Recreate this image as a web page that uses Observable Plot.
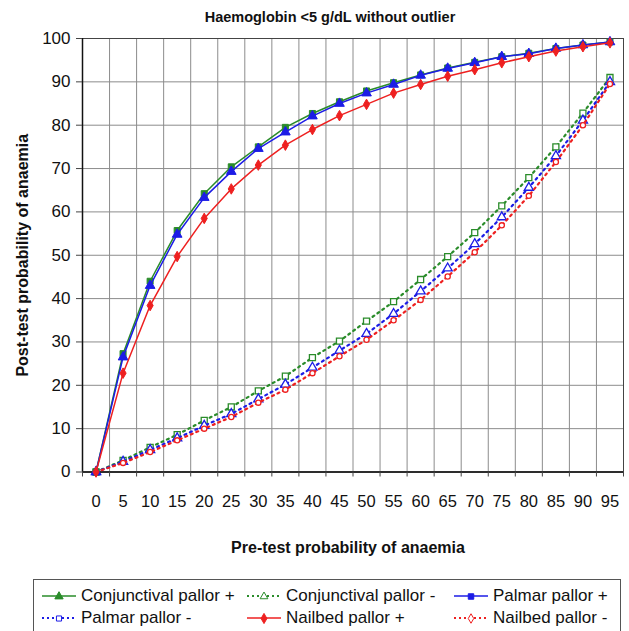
<!DOCTYPE html>
<html><head><meta charset="utf-8">
<script src="https://cdn.jsdelivr.net/npm/d3@7"></script>
<script src="https://cdn.jsdelivr.net/npm/@observablehq/plot@0.6"></script>
<style>
body{margin:0;background:#fff;font-family:"Liberation Sans",Arial,sans-serif;overflow:hidden;width:629px;height:631px;position:relative}
#title{height:30px;position:relative}
#title span{position:absolute;left:330px;top:17px;transform:translate(-50%,-50%);font-weight:bold;font-size:14.5px;white-space:nowrap;color:#111}
#legend{position:absolute;left:33px;top:579px;width:588px;height:60px;border:1px solid #555;box-sizing:border-box}
.item{position:absolute;display:flex;align-items:center;font-size:17px;white-space:nowrap;color:#111;transform:translateY(-50%)}
.item svg{margin-right:4px}
</style></head><body>
<div id="title"><span>Haemoglobin &lt;5 g/dL without outlier</span></div>
<div id="chart"></div>
<div id="legend"></div>
<script>
const pretest = [0,5,10,15,20,25,30,35,40,45,50,55,60,65,70,75,80,85,90,95];
const yTicks = [0,10,20,30,40,50,60,70,80,90,100];

const conjPos = [0,27.3,44.0,55.7,64.2,70.4,75.0,79.5,82.7,85.4,87.9,89.8,91.6,93.2,94.5,95.8,96.6,97.7,98.5,99.2];
const palmPos = [0,26.5,43.0,54.8,63.3,69.3,74.6,78.4,82.1,85.0,87.4,89.4,91.5,93.1,94.4,95.8,96.5,97.7,98.5,99.2];
const nailPos = [0,22.8,38.4,49.7,58.5,65.3,70.8,75.4,79.0,82.2,84.8,87.4,89.4,91.3,92.8,94.4,95.8,97.1,98.1,99.0];
const conjNeg = [0,2.7,5.7,8.6,11.9,15.0,18.7,22.1,26.4,30.2,34.8,39.3,44.4,49.7,55.2,61.4,67.9,75.0,82.8,91.0];
const palmNeg = [0,2.4,5.1,7.8,10.7,13.4,16.8,20.2,24.1,28.0,31.9,36.5,41.7,47.0,52.6,58.8,65.6,72.9,81.1,90.0];
const nailNeg = [0,2.1,4.6,7.3,10.0,12.7,16.0,19.0,22.8,26.7,30.5,35.0,39.7,45.1,50.7,56.9,63.7,71.5,80.0,89.5];

const GREEN = "#2a8c2a", BLUE = "#1c1ce6", RED = "#ee2020";

const series = [
  {key:"Conjunctival pallor -", values:conjNeg, color:GREEN, symbol:"square", filled:false, dashed:true, r:3.4},
  {key:"Palmar pallor -", values:palmNeg, color:BLUE, symbol:"triangle", filled:false, dashed:true, r:3.4},
  {key:"Nailbed pallor -", values:nailNeg, color:RED, symbol:"circle", filled:false, dashed:true, r:2.6},
  {key:"Conjunctival pallor +", values:conjPos, color:GREEN, symbol:"square", filled:true, dashed:false, r:3.4},
  {key:"Palmar pallor +", values:palmPos, color:BLUE, symbol:"triangle", filled:true, dashed:false, r:3.6},
  {key:"Nailbed pallor +", values:nailPos, color:RED, symbol:"diamond", filled:true, dashed:false, r:3.2}
];

const rows = [];
series.forEach(s => s.values.forEach((v,i) => rows.push({pre: pretest[i], post: v, key: s.key})));
const bounds = pretest.map(p => p - 2.5).concat([pretest[pretest.length-1] + 2.5]);

const seriesMarks = [];
series.forEach(s => {
  const d = rows.filter(r => r.key === s.key);
  seriesMarks.push(Plot.line(d, {x:"pre", y:"post", stroke:s.color,
    strokeWidth: s.dashed ? 2.2 : 1.5, strokeDasharray: s.dashed ? "2,4" : null}));
  seriesMarks.push(Plot.dot(d, {x:"pre", y:"post", symbol:s.symbol, r:s.r,
    fill: s.filled ? s.color : "white", stroke:s.color, strokeWidth: s.filled ? 1 : 1.3}));
});

const chart = Plot.plot({
  width: 629, height: 540,
  marginLeft: 82, marginRight: 6, marginTop: 8, marginBottom: 98.5,
  x: {domain: [-2.5, 97.5], label: null},
  y: {domain: [0, 100], label: null},
  style: {fontFamily: "'Liberation Sans', Arial, sans-serif", color: "#111", background: "white"},
  marks: [
    Plot.ruleX(bounds, {stroke: "#8c8c8c", strokeWidth: 1}),
    Plot.ruleY(yTicks, {stroke: "#8c8c8c", strokeWidth: 1}),
    Plot.frame({stroke: "#444"}),
    Plot.ruleY([0], {stroke: "#111", strokeWidth: 1.5}),
    Plot.ruleX([bounds[0]], {stroke: "#111", strokeWidth: 1.5}),
    Plot.axisX({ticks: bounds, tickSize: 5, tickFormat: () => "", stroke: "#444", label: null}),
    Plot.axisX({ticks: pretest, tickSize: 0, tickPadding: 23, fontSize: 16.5, label: null}),
    Plot.axisY({ticks: yTicks, tickSize: 6, tickPadding: 6, fontSize: 17, stroke: "#444", label: null}),
    ...seriesMarks,
    Plot.text(["Pre-test probability of anaemia"], {text: d => d, frameAnchor: "bottom", dy: 75.5, dx: -5,
      fontWeight: "bold", fontSize: 16, lineAnchor: "middle", fill: "#111"}),
    Plot.text(["Post-test probability of anaemia"], {text: d => d, frameAnchor: "left", dx: -60, dy: 0,
      rotate: -90, fontWeight: "bold", fontSize: 16, textAnchor: "middle", lineAnchor: "middle", fill: "#111"})
  ]
});
document.getElementById("chart").appendChild(chart);

// Legend
const legendItems = [
  {key:"Conjunctival pallor +", color:GREEN, sym:d3.symbolTriangle, filled:true, dashed:false, col:0, row:0},
  {key:"Conjunctival pallor -", color:GREEN, sym:d3.symbolTriangle, filled:false, dashed:true, col:1, row:0},
  {key:"Palmar pallor +", color:BLUE, sym:d3.symbolSquare, filled:true, dashed:false, col:2, row:0},
  {key:"Palmar pallor -", color:BLUE, sym:d3.symbolSquare, filled:false, dashed:true, col:0, row:1},
  {key:"Nailbed pallor +", color:RED, sym:d3.symbolDiamond, filled:true, dashed:false, col:1, row:1},
  {key:"Nailbed pallor -", color:RED, sym:d3.symbolDiamond, filled:false, dashed:true, col:2, row:1}
];
const colX = [7, 212, 419], rowY = [16, 38];
const leg = document.getElementById("legend");
legendItems.forEach(it => {
  const div = document.createElement("div");
  div.className = "item";
  div.style.left = colX[it.col] + "px";
  div.style.top = rowY[it.row] + "px";
  const path = d3.symbol(it.sym, it.filled ? 30 : 26)();
  div.innerHTML = `<svg width="36" height="12" viewBox="0 0 36 12">
    <line x1="1" x2="35" y1="6" y2="6" stroke="${it.color}" stroke-width="${it.dashed ? 1.8 : 1.5}" ${it.dashed ? 'stroke-dasharray="2,3"' : ''}/>
    <path d="${path}" transform="translate(18,6.5)" fill="${it.filled ? it.color : 'white'}" stroke="${it.color}" stroke-width="1"/>
  </svg><span>${it.key}</span>`;
  leg.appendChild(div);
});
</script>
</body></html>
